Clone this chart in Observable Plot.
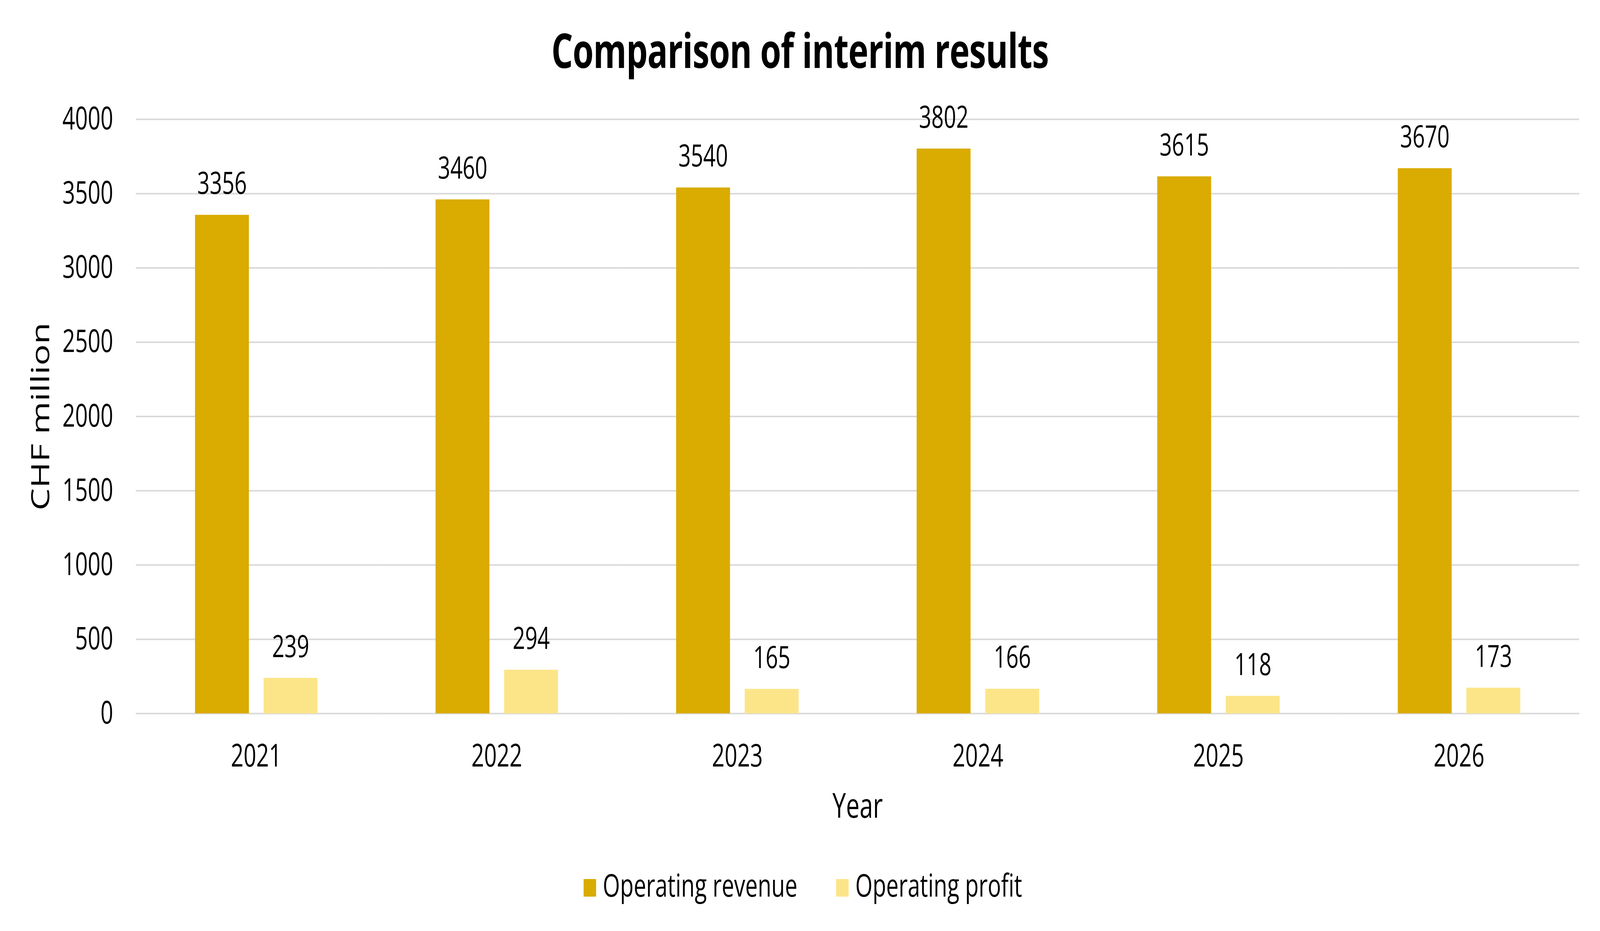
<!DOCTYPE html>
<html>
<head>
<meta charset="utf-8">
<script src="https://cdn.jsdelivr.net/npm/d3@7"></script>
<script src="https://cdn.jsdelivr.net/npm/@observablehq/plot@0.6"></script>
<style>
  html, body { margin: 0; padding: 0; width: 100%; height: 100%; background: #fff; overflow: hidden; }
  #viewport { position: fixed; left: 0; top: 0; width: 100vw; height: 100vh; overflow: hidden; background: #fff; }
  #wrap { position: absolute; left: 0; top: 0; width: 5760px; height: 2383px; transform-origin: 0 0; font-family: "Open Sans", sans-serif; color: #000; background: #fff; }
  #title { position: absolute; left: 0; top: 66px; width: 5760px; text-align: center; font-size: 122px; line-height: 122px; font-weight: 700; letter-spacing: -1.2px; }
  #chart { position: absolute; left: 0; top: 230px; }
  .leg { position: absolute; top: 2224px; height: 80px; line-height: 80px; font-size: 80px; white-space: nowrap; }
  .sw { position: absolute; top: 26px; left: 0; width: 45px; height: 45px; }
  .lt { position: absolute; left: 69px; top: 0; }
</style>
</head>
<body>
<div id="viewport">
<div id="wrap">
<div id="title">Comparison of interim results</div>
<div id="chart"></div>
<div id="legend"></div>
</div>
</div>
<script>
const years = ["2021", "2022", "2023", "2024", "2025", "2026"];
const revenue = [3356, 3460, 3540, 3802, 3615, 3670];
const profit = [239, 294, 165, 166, 118, 173];
const seriesNames = ["Operating revenue", "Operating profit"];
const seriesColors = ["#DAAB00", "#FCE588"];
const yTicks = [0, 500, 1000, 1500, 2000, 2500, 3000, 3500, 4000];

const data = years.flatMap((yr, i) => [
  {year: yr, series: seriesNames[0], value: revenue[i]},
  {year: yr, series: seriesNames[1], value: profit[i]}
]);

const chart = Plot.plot({
  width: 5760,
  height: 1900,
  marginTop: 75,
  marginLeft: 489,
  marginRight: 75,
  marginBottom: 304,
  style: {fontFamily: "'Open Sans', sans-serif", fontSize: "80px", color: "#000", background: "#fff", overflow: "visible"},
  fx: {domain: years, padding: 0},
  x: {domain: seriesNames, paddingInner: 0.2146, paddingOuter: 0.86, axis: null},
  y: {domain: [0, 4000]},
  color: {domain: seriesNames, range: seriesColors},
  marks: [
    Plot.gridY(yTicks, {stroke: "#d9d9d9", strokeOpacity: 1, strokeWidth: 4}),
    Plot.barY(data, {fx: "year", x: "series", y: "value", fill: "series"}),
    Plot.text(data, {fx: "year", x: "series", y: "value", text: d => String(d.value), lineAnchor: "bottom", dy: -54, fontSize: 78, fill: "#000"}),
    Plot.axisY(yTicks, {tickSize: 0, tickPadding: 82, fontSize: 80, label: null, tickFormat: d => String(d)}),
    Plot.axisY([], {label: "CHF million", labelArrow: "none", labelAnchor: "center", labelOffset: 377, fontSize: 91, tickSize: 0}),
    Plot.axisFx({anchor: "bottom", tickSize: 0, tickPadding: 79, fontSize: 80, label: null}),
    Plot.axisFx([], {anchor: "bottom", label: "Year", labelArrow: "none", labelAnchor: "center", labelOffset: 266, fontSize: 87, tickSize: 0})
  ]
});
document.getElementById("chart").appendChild(chart);

const legendLeft = [2101, 3010];
const legend = document.getElementById("legend");
seriesNames.forEach((name, i) => {
  const item = document.createElement("div");
  item.className = "leg";
  item.style.left = legendLeft[i] + "px";
  const sw = document.createElement("div");
  sw.className = "sw";
  sw.style.background = seriesColors[i];
  const t = document.createElement("span");
  t.className = "lt";
  t.textContent = name;
  item.appendChild(sw);
  item.appendChild(t);
  legend.appendChild(item);
});

// The browser window may be narrower than 5760px; stretch the 5760x2383 design to fill it exactly.
function fit() {
  const kx = window.innerWidth / 5760;
  const ky = window.innerHeight / 2383;
  document.getElementById("wrap").style.transform = `scale(${kx}, ${ky})`;
}
fit();
window.addEventListener("resize", fit);
</script>
</body>
</html>
